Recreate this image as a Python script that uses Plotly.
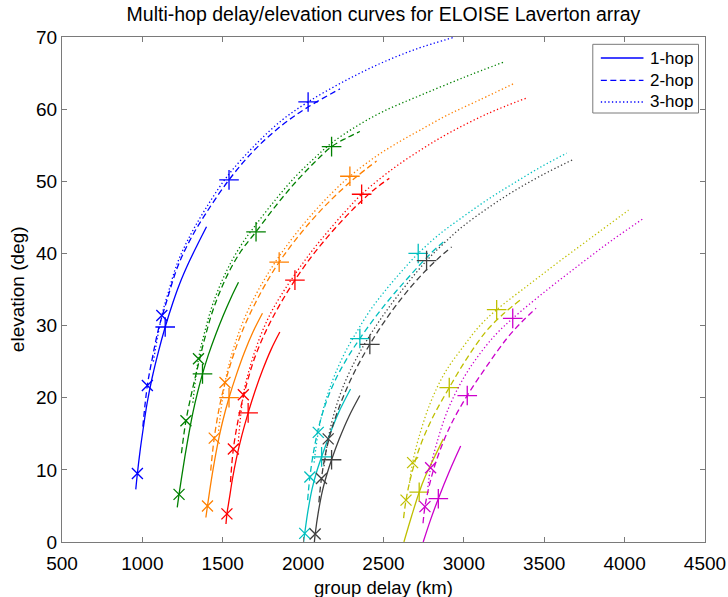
import plotly.graph_objects as go

# ---------------- data: group delay (km) vs elevation (deg) ----------------
# Blue receiver path
BLUE_1HOP_DELAY = [959, 969, 985, 1005, 1030, 1060, 1100, 1142, 1190, 1232, 1290, 1340, 1399]
BLUE_1HOP_ELEV = [7.3, 9.5, 12.5, 15.7, 19.3, 22.7, 26.4, 29.8, 33.2, 35.8, 38.8, 41.1, 43.7]
BLUE_2HOP_DELAY = [1003, 1031, 1062, 1100, 1150, 1220, 1300, 1388, 1539, 1700, 1870, 2031, 2229]
BLUE_2HOP_ELEV = [16.0, 21.7, 25.5, 29.5, 33.3, 38.2, 42.0, 45.3, 50.2, 54.4, 57.8, 60.3, 62.8]
BLUE_3HOP_DELAY = [1068, 1121, 1160, 1220, 1300, 1388, 1525, 1700, 1870, 2031, 2250, 2477, 2700, 2944]
BLUE_3HOP_ELEV = [25.0, 31.4, 34.5, 38.8, 42.6, 46.0, 50.6, 55.0, 58.5, 61.0, 63.8, 66.3, 68.3, 70.0]
BLUE_X_DELAY = [969, 1031, 1121]
BLUE_X_ELEV = [9.5, 21.7, 31.4]
BLUE_P_DELAY = [1142, 1539, 2031]
BLUE_P_ELEV = [29.8, 50.2, 61.0]

# Green
GREEN_1HOP_DELAY = [1217, 1228, 1245, 1265, 1290, 1315, 1343, 1374, 1410, 1455, 1505, 1550, 1598]
GREEN_1HOP_ELEV = [4.8, 6.6, 9.1, 11.9, 15.1, 18.0, 20.7, 23.3, 25.9, 28.7, 31.5, 33.8, 36.0]
GREEN_2HOP_DELAY = [1243, 1271, 1310, 1349, 1390, 1440, 1520, 1610, 1707, 1830, 1950, 2070, 2177, 2270, 2353]
GREEN_2HOP_ELEV = [12.3, 16.8, 21.0, 24.7, 28.4, 32.2, 36.6, 40.2, 43.0, 46.6, 49.8, 52.6, 54.8, 56.0, 56.9]
GREEN_3HOP_DELAY = [1314, 1349, 1390, 1440, 1520, 1610, 1700, 1830, 1950, 2070, 2177, 2330, 2500, 2728, 3000, 3245]
GREEN_3HOP_ELEV = [19.3, 25.4, 29.3, 33.1, 37.4, 41.0, 43.8, 47.5, 50.6, 53.2, 55.3, 57.6, 59.7, 61.9, 64.4, 66.5]
GREEN_X_DELAY = [1228, 1271, 1349]
GREEN_X_ELEV = [6.6, 16.8, 25.4]
GREEN_P_DELAY = [1374, 1707, 2177]
GREEN_P_ELEV = [23.3, 43.0, 54.8]

# Orange
ORANGE_1HOP_DELAY = [1395, 1405, 1420, 1440, 1465, 1498, 1539, 1585, 1635, 1690, 1747]
ORANGE_1HOP_ELEV = [3.4, 5.0, 7.3, 10.1, 13.2, 16.6, 20.0, 23.2, 26.3, 29.2, 31.7]
ORANGE_2HOP_DELAY = [1425, 1447, 1480, 1520, 1580, 1640, 1700, 1770, 1851, 1950, 2070, 2200, 2330, 2457]
ORANGE_2HOP_ELEV = [9.9, 14.4, 18.8, 22.5, 26.8, 30.2, 33.0, 35.9, 38.8, 41.8, 45.0, 48.0, 50.6, 52.8]
ORANGE_3HOP_DELAY = [1474, 1514, 1560, 1620, 1690, 1770, 1851, 1950, 2070, 2180, 2291, 2450, 2600, 2728, 2900, 3100, 3316]
ORANGE_3HOP_ELEV = [15.4, 22.1, 26.3, 30.2, 33.6, 36.8, 39.6, 42.6, 45.8, 48.4, 50.7, 53.4, 55.5, 57.1, 59.2, 61.3, 63.6]
ORANGE_X_DELAY = [1405, 1447, 1514]
ORANGE_X_ELEV = [5.0, 14.4, 22.1]
ORANGE_P_DELAY = [1539, 1851, 2291]
ORANGE_P_ELEV = [20.0, 38.8, 50.7]

# Red
RED_1HOP_DELAY = [1520, 1526, 1541, 1560, 1585, 1618, 1658, 1702, 1749, 1801, 1855]
RED_1HOP_ELEV = [2.5, 3.9, 6.0, 8.7, 11.6, 14.7, 17.9, 21.0, 23.9, 26.7, 29.1]
RED_2HOP_DELAY = [1548, 1566, 1600, 1640, 1700, 1770, 1850, 1949, 2050, 2160, 2270, 2364, 2450, 2536]
RED_2HOP_ELEV = [8.3, 12.9, 17.4, 21.2, 25.6, 29.3, 32.7, 36.3, 39.5, 42.5, 45.2, 47.3, 49.0, 50.4]
RED_3HOP_DELAY = [1595, 1628, 1670, 1730, 1800, 1880, 1949, 2050, 2160, 2270, 2364, 2550, 2728, 2900, 3150, 3385]
RED_3HOP_ELEV = [13.4, 20.4, 24.3, 28.3, 31.8, 34.8, 37.1, 40.2, 43.2, 46.0, 48.2, 51.6, 54.3, 56.6, 59.4, 61.5]
RED_X_DELAY = [1526, 1566, 1628]
RED_X_ELEV = [3.9, 12.9, 20.4]
RED_P_DELAY = [1658, 1949, 2364]
RED_P_ELEV = [17.9, 36.3, 48.2]

# Cyan
CYAN_1HOP_DELAY = [2003, 2010, 2030, 2055, 2085, 2115, 2160, 2220, 2295]
CYAN_1HOP_ELEV = [0.0, 1.2, 4.3, 7.3, 9.8, 11.8, 14.6, 17.9, 21.2]
CYAN_2HOP_DELAY = [2028, 2042, 2065, 2100, 2150, 2210, 2280, 2353, 2450, 2550, 2660, 2789, 2872]
CYAN_2HOP_ELEV = [5.8, 9.0, 12.5, 16.2, 19.8, 22.9, 25.7, 28.2, 31.2, 34.0, 36.8, 39.9, 41.6]
CYAN_3HOP_DELAY = [2068, 2094, 2130, 2180, 2250, 2330, 2420, 2520, 2620, 2716, 2850, 2996, 3150, 3308, 3480, 3640]
CYAN_3HOP_ELEV = [11.0, 15.2, 18.8, 22.2, 25.8, 29.0, 32.2, 35.1, 37.7, 40.0, 42.7, 45.1, 47.5, 49.7, 52.0, 53.9]
CYAN_X_DELAY = [2010, 2042, 2094]
CYAN_X_ELEV = [1.2, 9.0, 15.2]
CYAN_P_DELAY = [2115, 2353, 2716]
CYAN_P_ELEV = [11.8, 28.2, 40.0]

# Dark grey
GREY_1HOP_DELAY = [2070, 2075, 2095, 2120, 2148, 2177, 2225, 2285, 2353]
GREY_1HOP_ELEV = [0.0, 1.1, 4.2, 7.1, 9.4, 11.4, 14.3, 17.4, 20.3]
GREY_2HOP_DELAY = [2098, 2114, 2140, 2180, 2240, 2320, 2415, 2510, 2620, 2740, 2850, 2924]
GREY_2HOP_ELEV = [5.5, 8.8, 12.3, 15.8, 19.6, 23.6, 27.4, 30.7, 34.0, 37.1, 39.5, 40.9]
GREY_3HOP_DELAY = [2130, 2156, 2195, 2250, 2330, 2420, 2520, 2640, 2768, 2880, 2996, 3150, 3308, 3490, 3678]
GREY_3HOP_ELEV = [10.5, 14.3, 18.0, 21.6, 25.4, 28.8, 32.1, 35.6, 39.0, 41.5, 43.8, 46.3, 48.6, 50.9, 53.0]
GREY_X_DELAY = [2075, 2114, 2156]
GREY_X_ELEV = [1.1, 8.8, 14.3]
GREY_P_DELAY = [2177, 2415, 2768]
GREY_P_ELEV = [11.4, 27.4, 39.0]

# Olive
OLIVE_1HOP_DELAY = [2627, 2675, 2722, 2760, 2800, 2872]
OLIVE_1HOP_ELEV = [0.0, 3.6, 6.9, 9.1, 11.0, 14.3]
OLIVE_2HOP_DELAY = [2625, 2640, 2670, 2720, 2800, 2909, 3020, 3142, 3250, 3354]
OLIVE_2HOP_ELEV = [3.3, 5.8, 9.0, 12.8, 17.0, 21.4, 25.5, 29.3, 31.7, 33.6]
OLIVE_3HOP_DELAY = [2662, 2681, 2720, 2790, 2880, 3000, 3100, 3204, 3400, 3600, 3800, 4024]
OLIVE_3HOP_ELEV = [8.2, 11.0, 14.5, 19.2, 23.4, 27.2, 30.0, 32.2, 35.6, 39.0, 42.3, 46.0]
OLIVE_X_DELAY = [2640, 2681]
OLIVE_X_ELEV = [5.8, 11.0]
OLIVE_P_DELAY = [2722, 2909, 3204]
OLIVE_P_ELEV = [6.9, 21.4, 32.2]

# Magenta
MAGENTA_1HOP_DELAY = [2747, 2793, 2841, 2910, 2980]
MAGENTA_1HOP_ELEV = [0.0, 3.1, 6.0, 9.8, 13.3]
MAGENTA_2HOP_DELAY = [2746, 2758, 2790, 2840, 2920, 3021, 3140, 3267, 3360, 3449]
MAGENTA_2HOP_ELEV = [2.6, 4.9, 8.3, 12.0, 16.3, 20.3, 24.3, 28.2, 30.5, 32.4]
MAGENTA_3HOP_DELAY = [2776, 2793, 2830, 2900, 3000, 3100, 3200, 3304, 3515, 3723, 3920, 4114]
MAGENTA_3HOP_ELEV = [7.6, 10.3, 13.6, 18.3, 22.8, 26.1, 28.8, 31.0, 34.9, 38.5, 41.8, 44.8]
MAGENTA_X_DELAY = [2758, 2793]
MAGENTA_X_ELEV = [4.9, 10.3]
MAGENTA_P_DELAY = [2841, 3021, 3304]
MAGENTA_P_ELEV = [6.0, 20.3, 31.0]

X_TICKS = [500, 1000, 1500, 2000, 2500, 3000, 3500, 4000, 4500]
Y_TICKS = [0, 10, 20, 30, 40, 50, 60, 70]
HOP_LABELS = ["1-hop", "2-hop", "3-hop"]

# ---------------- styling ----------------
FONT = "Liberation Sans, Arial, Helvetica, sans-serif"
AXIS_GREY = "#7a7a7a"
LINE_W = 1.3
HOP_DASH = ["solid", "6px,3.5px", "1.3px,2.4px"]

groups = [
    ("#0000FF", [(BLUE_1HOP_DELAY, BLUE_1HOP_ELEV), (BLUE_2HOP_DELAY, BLUE_2HOP_ELEV), (BLUE_3HOP_DELAY, BLUE_3HOP_ELEV)],
     (BLUE_X_DELAY, BLUE_X_ELEV), (BLUE_P_DELAY, BLUE_P_ELEV)),
    ("#008000", [(GREEN_1HOP_DELAY, GREEN_1HOP_ELEV), (GREEN_2HOP_DELAY, GREEN_2HOP_ELEV), (GREEN_3HOP_DELAY, GREEN_3HOP_ELEV)],
     (GREEN_X_DELAY, GREEN_X_ELEV), (GREEN_P_DELAY, GREEN_P_ELEV)),
    ("#FF8000", [(ORANGE_1HOP_DELAY, ORANGE_1HOP_ELEV), (ORANGE_2HOP_DELAY, ORANGE_2HOP_ELEV), (ORANGE_3HOP_DELAY, ORANGE_3HOP_ELEV)],
     (ORANGE_X_DELAY, ORANGE_X_ELEV), (ORANGE_P_DELAY, ORANGE_P_ELEV)),
    ("#FF0000", [(RED_1HOP_DELAY, RED_1HOP_ELEV), (RED_2HOP_DELAY, RED_2HOP_ELEV), (RED_3HOP_DELAY, RED_3HOP_ELEV)],
     (RED_X_DELAY, RED_X_ELEV), (RED_P_DELAY, RED_P_ELEV)),
    ("#00BFBF", [(CYAN_1HOP_DELAY, CYAN_1HOP_ELEV), (CYAN_2HOP_DELAY, CYAN_2HOP_ELEV), (CYAN_3HOP_DELAY, CYAN_3HOP_ELEV)],
     (CYAN_X_DELAY, CYAN_X_ELEV), (CYAN_P_DELAY, CYAN_P_ELEV)),
    ("#404040", [(GREY_1HOP_DELAY, GREY_1HOP_ELEV), (GREY_2HOP_DELAY, GREY_2HOP_ELEV), (GREY_3HOP_DELAY, GREY_3HOP_ELEV)],
     (GREY_X_DELAY, GREY_X_ELEV), (GREY_P_DELAY, GREY_P_ELEV)),
    ("#BFBF00", [(OLIVE_1HOP_DELAY, OLIVE_1HOP_ELEV), (OLIVE_2HOP_DELAY, OLIVE_2HOP_ELEV), (OLIVE_3HOP_DELAY, OLIVE_3HOP_ELEV)],
     (OLIVE_X_DELAY, OLIVE_X_ELEV), (OLIVE_P_DELAY, OLIVE_P_ELEV)),
    ("#CC00CC", [(MAGENTA_1HOP_DELAY, MAGENTA_1HOP_ELEV), (MAGENTA_2HOP_DELAY, MAGENTA_2HOP_ELEV), (MAGENTA_3HOP_DELAY, MAGENTA_3HOP_ELEV)],
     (MAGENTA_X_DELAY, MAGENTA_X_ELEV), (MAGENTA_P_DELAY, MAGENTA_P_ELEV)),
]

fig = go.Figure()

for color, hops, xmarks, pmarks in groups:
    for (delay, elev), dash in zip(hops, HOP_DASH):
        fig.add_trace(go.Scatter(
            x=delay, y=elev, mode="lines",
            line=dict(color=color, width=LINE_W, dash=dash, shape="spline", smoothing=1.0),
            showlegend=False, hoverinfo="skip",
        ))
    fig.add_trace(go.Scatter(
        x=xmarks[0], y=xmarks[1], mode="markers", cliponaxis=False,
        marker=dict(symbol="x-thin", size=11, color=color, line=dict(color=color, width=1.3)),
        showlegend=False, hoverinfo="skip",
    ))
    fig.add_trace(go.Scatter(
        x=pmarks[0], y=pmarks[1], mode="markers", cliponaxis=False,
        marker=dict(symbol="cross-thin", size=14, color=color, line=dict(color=color, width=1.3)),
        showlegend=False, hoverinfo="skip",
    ))

# ---------------- legend box (hop count by line style) ----------------
shapes = [dict(type="rect", xref="paper", yref="paper", x0=0.8255, x1=0.9899, y0=0.8495, y1=0.9855,
               line=dict(color=AXIS_GREY, width=1), fillcolor="white", layer="above")]
annotations = []
legend_rows = [0.9584, 0.9142, 0.8713]
for label, dash, ypos in zip(HOP_LABELS, HOP_DASH, legend_rows):
    shapes.append(dict(type="line", xref="paper", yref="paper", x0=0.838, x1=0.9043, y0=ypos, y1=ypos,
                       line=dict(color="#0000FF", width=LINE_W, dash=dash), layer="above"))
    annotations.append(dict(text=label, xref="paper", yref="paper", x=0.912, y=ypos,
                            xanchor="left", yanchor="middle", showarrow=False,
                            font=dict(family=FONT, size=17, color="black")))

# axis titles
annotations.append(dict(text="group delay (km)", xref="paper", yref="paper", x=0.5, y=-0.0905,
                        xanchor="center", yanchor="middle", showarrow=False,
                        font=dict(family=FONT, size=18.5, color="black")))
annotations.append(dict(text="elevation (deg)", xref="paper", yref="paper", x=-0.069, y=0.5,
                        xanchor="center", yanchor="middle", showarrow=False, textangle=-90,
                        font=dict(family=FONT, size=19, color="black")))

axis_common = dict(
    showgrid=False, zeroline=False, showline=True, linecolor=AXIS_GREY, linewidth=1,
    mirror="ticks", ticks="inside", ticklen=5, tickwidth=1, tickcolor=AXIS_GREY,
    tickfont=dict(family=FONT, size=19, color="black"),
)

fig.update_layout(
    width=728, height=597,
    margin=dict(l=62, r=23, t=37, b=55, autoexpand=False),
    paper_bgcolor="white", plot_bgcolor="white",
    title=dict(text="Multi-hop delay/elevation curves for ELOISE Laverton array",
               x=0.5, xref="paper", xanchor="center", y=1 - 14.5 / 597, yref="container", yanchor="middle",
               font=dict(family=FONT, size=19.5, color="black")),
    xaxis=dict(range=[500, 4500], tickvals=X_TICKS, ticktext=[str(v) for v in X_TICKS],
               ticklabelstandoff=4, **axis_common),
    yaxis=dict(range=[0, 70], tickvals=Y_TICKS, ticktext=[str(v) for v in Y_TICKS], **axis_common),
    shapes=shapes, annotations=annotations, showlegend=False,
)

fig.write_html("out.html")
